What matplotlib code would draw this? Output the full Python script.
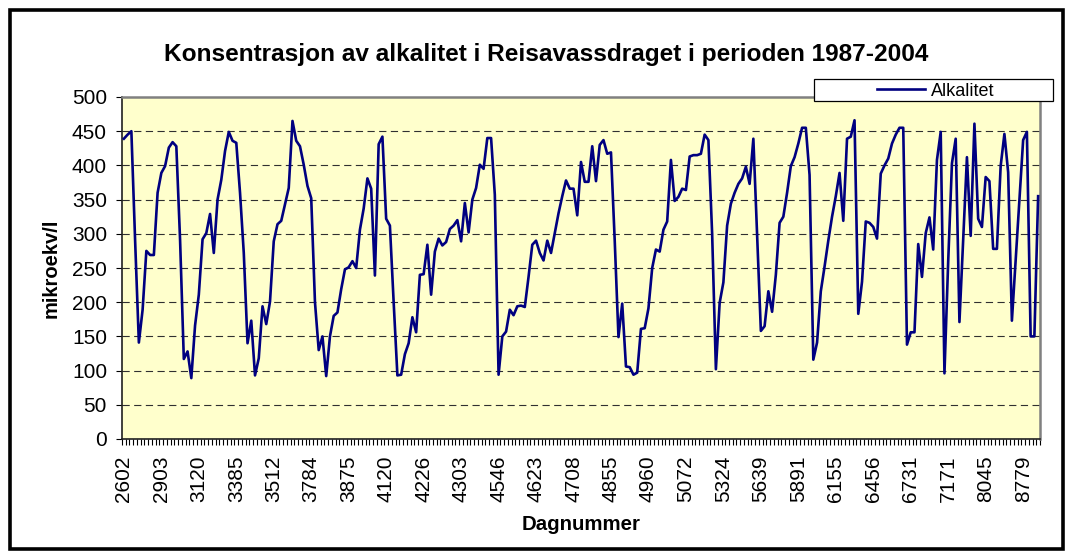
import matplotlib
matplotlib.use("Agg")
import matplotlib.pyplot as plt
from matplotlib.patches import Rectangle

plt.rcParams['font.family'] = ['Liberation Sans', 'DejaVu Sans']

# ---------------- data ----------------
title = "Konsentrasjon av alkalitet i Reisavassdraget i perioden 1987-2004"
x_title = "Dagnummer"
y_title = "mikroekv/l"
series_name = "Alkalitet"

# every 10th category label (Dagnummer)
tick_labels = ["2602", "2903", "3120", "3385", "3512", "3784", "3875", "4120",
               "4226", "4303", "4546", "4623", "4708", "4855", "4960", "5072",
               "5324", "5639", "5891", "6155", "6456", "6731", "7171", "8045",
               "8779"]
label_step = 10

alkalitet = [
    439, 445, 450, 290, 141, 189, 275, 269, 269, 360,
    389, 399, 426, 434, 428, 291, 117, 128, 89, 166,
    211, 292, 301, 329, 272, 350, 379, 421, 449, 436,
    433, 360, 272, 140, 173, 93, 118, 194, 168, 201,
    289, 314, 319, 343, 367, 465, 436, 428, 401, 370,
    352, 200, 130, 150, 92, 150, 180, 185, 219, 248,
    251, 260, 250, 306, 337, 381, 366, 239, 431, 442,
    322, 312, 200, 93, 94, 124, 140, 178, 156, 240,
    241, 284, 211, 274, 293, 283, 288, 307, 312, 320,
    289, 345, 302, 350, 367, 401, 395, 440, 440, 357,
    94, 150, 157, 189, 181, 194, 195, 193, 237, 284,
    290, 272, 261, 290, 272, 301, 330, 355, 378, 366,
    366, 327, 405, 376, 376, 428, 377, 430, 437, 417,
    419, 290, 149, 198, 106, 105, 94, 97, 161, 162,
    191, 250, 277, 274, 306, 318, 408, 348, 354, 366,
    364, 413, 415, 415, 417, 445, 437, 300, 102, 199,
    229, 312, 344, 360, 373, 381, 398, 373, 439, 300,
    158, 165, 216, 186, 240, 316, 325, 360, 399, 412,
    432, 455, 455, 386, 116, 141, 216, 252, 290, 325,
    355, 389, 319, 439, 442, 466, 183, 230, 318, 316,
    310, 293, 388, 400, 410, 432, 445, 455, 455, 138,
    156, 156, 285, 237, 301, 324, 277, 408, 449, 96,
    260, 403, 439, 171, 291, 412, 297, 461, 322, 310,
    383, 377, 278, 278, 399, 446, 390, 173, 261, 349,
    437, 449, 150, 150, 355,
]
y_ticks = [0, 50, 100, 150, 200, 250, 300, 350, 400, 450, 500]

# ---------------- figure ----------------
W, H = 1071, 556
fig = plt.figure(figsize=(W / 100, H / 100), dpi=100)
fig.patch.set_facecolor('white')

L, R, T, B = 122, 1040, 97, 439
ax = fig.add_axes([L / W, 1 - B / H, (R - L) / W, (B - T) / H])
ax.set_facecolor('#FFFFCC')

n = len(alkalitet)
xs = list(range(n))
line, = ax.plot(xs, alkalitet, color='#000080', lw=1.9, label=series_name,
                zorder=3, solid_joinstyle='round')

ax.set_xlim(-0.5, n - 0.5)
ax.set_ylim(y_ticks[0], y_ticks[-1])

# dashed gridlines
for yv in y_ticks[1:-1]:
    ax.axhline(yv, color='#303030', lw=0.8, dashes=(6.5, 4.0), zorder=1)

# spines
for s in ('top', 'right'):
    ax.spines[s].set_color('#808080')
    ax.spines[s].set_linewidth(1.8)
for s in ('left', 'bottom'):
    ax.spines[s].set_color('#202020')
    ax.spines[s].set_linewidth(1.2)

# y axis
ax.set_yticks(y_ticks)
ax.set_yticklabels([str(v) for v in y_ticks])
ax.tick_params(axis='y', direction='out', length=4.3, width=0.8,
               pad=6.5, labelsize=15, color='black')

# x axis: labels every 10th category, tick marks at every category boundary
major_pos = list(range(0, n, label_step))[:len(tick_labels)]
ax.set_xticks(major_pos)
ax.set_xticklabels(tick_labels, rotation=90, fontsize=15)
ax.tick_params(axis='x', which='major', length=0, pad=12)
ax.set_xticks([b - 0.5 for b in range(n + 1)], minor=True)
ax.tick_params(axis='x', which='minor', direction='out', length=4.3,
               width=0.8, color='black')

# titles
fig.text(546 / W, 1 - 55 / H, title, ha='center', va='center',
         fontsize=17.6, fontweight='bold')
fig.text(581 / W, 1 - 524 / H, x_title, ha='center', va='center',
         fontsize=14.7, fontweight='bold')
fig.text(51 / W, 1 - 268 / H, y_title, ha='center', va='center',
         rotation=90, fontsize=14.5, fontweight='bold')

# legend (box + entry)
fig.add_artist(Rectangle((814 / W, 1 - 101 / H), 239 / W, 22 / H,
                         transform=fig.transFigure, facecolor='white',
                         edgecolor='black', lw=0.9, zorder=5))
leg = fig.legend(handles=[line], labels=[series_name], loc='center',
                 bbox_to_anchor=(936 / W, 1 - 91 / H), frameon=False,
                 fontsize=13, handlelength=2.66, handletextpad=0.33,
                 borderpad=0, borderaxespad=0)
leg.set_zorder(6)

# outer chart frame
fig.add_artist(Rectangle((9.5 / W, 1 - 548.5 / H), 1053 / W, 539 / H,
                         transform=fig.transFigure, facecolor='none',
                         edgecolor='black', lw=2.6, zorder=7))

fig.savefig('out.png', dpi=100)
